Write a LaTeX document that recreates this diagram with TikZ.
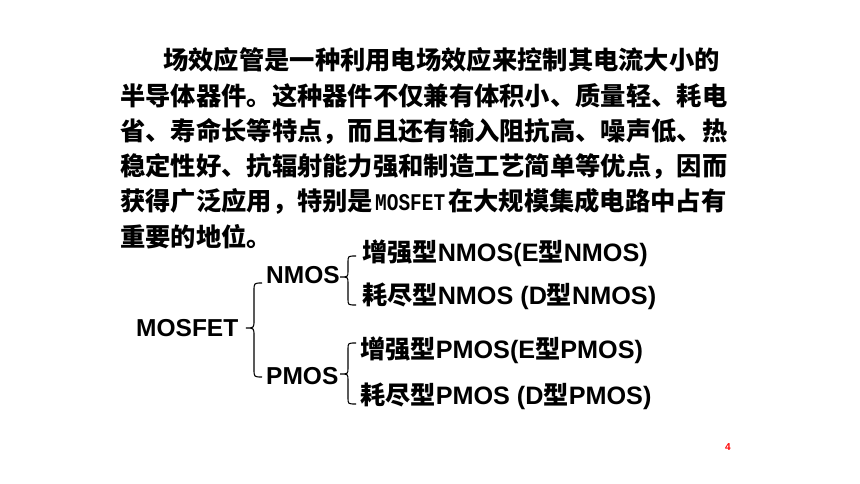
\documentclass[tikz,border=0pt]{standalone}
\usepackage{fontspec}
\setmainfont{Liberation Sans}
\newfontfamily\cjk{Noto Sans CJK SC}
\newfontfamily\monof{Liberation Mono}
\newcommand{\zh}[1]{{\cjk #1}}
\XeTeXlinebreaklocale "zh"
\XeTeXlinebreakskip=0pt plus 1fil
\begin{document}
\begin{tikzpicture}[x=1pt,y=-1pt,
  para/.style={anchor=west,inner sep=0pt,font=\cjk\bfseries\fontsize{25.3}{30}\selectfont},
  item/.style={anchor=west,inner sep=0pt,font=\bfseries\fontsize{24.5}{29}\selectfont},
  leaf/.style={anchor=west,inner sep=0pt,font=\bfseries\fontsize{25.2}{29}\selectfont},
  brace/.style={line width=1.1pt,black}]
\useasboundingbox (0,0) rectangle (860,484);
\fill[white] (0,0) rectangle (860,484);
% paragraph
\node[para] (p1) at (163,60) {\makebox[564pt][s]{场效应管是一种利用电场效应来控制其电流大小的}};
\node[para] (p2) at (120,96) {\makebox[607pt][s]{半导体器件。这种器件不仅兼有体积小、质量轻、耗电}};
\node[para] (p3) at (120,131) {\makebox[607pt][s]{省、寿命长等特点，而且还有输入阻抗高、噪声低、热}};
\node[para] (p4) at (120,166) {\makebox[607pt][s]{稳定性好、抗辐射能力强和制造工艺简单等优点，因而}};
\node[para] (p5) at (120,201) {\makebox[607pt][s]{获得广泛应用，特别是\kern2pt\resizebox{70pt}{16pt}{\monof\bfseries MOSFET}\kern3pt 在大规模集成电路中占有}};
\node[para] (p6) at (120,237) {重要的地位。};
% tree
\node[item] (mos) at (136,328) {MOSFET};
\node[item] (nmos) at (266,275) {NMOS};
\node[item] (pmos) at (266,376) {PMOS};
\node[leaf] (ne) at (362,253) {\zh{增强型}NMOS(E\zh{型}NMOS)};
\node[leaf] (nd) at (362,296) {\zh{耗尽型}NMOS (D\zh{型}NMOS)};
\node[leaf] (pe) at (360,350) {\zh{增强型}PMOS(E\zh{型}PMOS)};
\node[leaf] (pd) at (360,396) {\zh{耗尽型}PMOS (D\zh{型}PMOS)};
% braces
\draw[brace] (262,283) .. controls (254,283) .. (254,291) -- (254,320)
  .. controls (254,328) .. (246,328) .. controls (254,328) .. (254,336)
  -- (254,369) .. controls (254,377) .. (262,377);
\draw[brace] (356,256) .. controls (348,256) .. (348,262) -- (348,271)
  .. controls (348,277) .. (340,277) .. controls (348,277) .. (348,283)
  -- (348,299) .. controls (348,305) .. (356,305);
\draw[brace] (356,343) .. controls (348,343) .. (348,349) -- (348,368)
  .. controls (348,374) .. (340,374) .. controls (348,374) .. (348,380)
  -- (348,398) .. controls (348,404) .. (356,404);
\node[text=red,font=\bfseries\fontsize{10}{12}\selectfont,inner sep=0pt] (pg) at (728,447) {4};
\end{tikzpicture}
\end{document}
